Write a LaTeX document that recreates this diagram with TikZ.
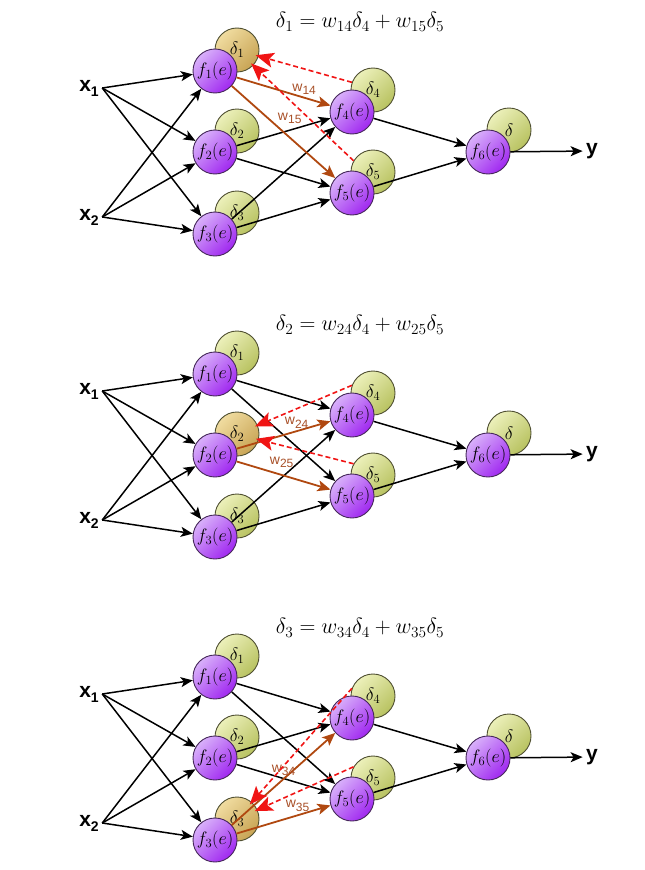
\RequirePackage{fix-cm}
\documentclass[tikz,border=0pt]{standalone}
\usepackage{fontspec}
\newfontfamily\arial{Liberation Sans}
\usetikzlibrary{arrows.meta}

% colours
\definecolor{fTop}{RGB}{216,176,250}
\definecolor{fBot}{RGB}{160,40,240}
\definecolor{fLine}{RGB}{70,40,90}
\definecolor{dTop}{RGB}{236,240,186}
\definecolor{dBot}{RGB}{184,194,96}
\definecolor{dLine}{RGB}{80,80,50}
\definecolor{hTop}{RGB}{240,220,160}
\definecolor{hBot}{RGB}{200,164,84}
\definecolor{wBrown}{RGB}{176,72,16}
\definecolor{wText}{RGB}{168,80,40}
\definecolor{eRed}{RGB}{240,20,20}

% label with a lowered index
\newcommand{\lowidx}[3][12]{#2\raisebox{-0.45ex}{\fontsize{#1}{#1}\selectfont#3}}

\tikzset{
    fnode/.style={circle, draw=fLine, line width=0.9pt, minimum size=44pt,
        inner sep=0pt, top color=fTop, bottom color=fBot, shading angle=45,
        font=\fontsize{18}{18}\selectfont},
    dnode/.style={circle, draw=dLine, line width=0.9pt, minimum size=44pt,
        inner sep=0pt, top color=dTop, bottom color=dBot, shading angle=45,
        font=\fontsize{18}{18}\selectfont},
    dhot/.style={dnode, top color=hTop, bottom color=hBot, shading angle=45},
    headline/.style={font=\fontsize{22}{22}\selectfont},
    inlabel/.style={font=\arial\bfseries\fontsize{21}{21}\selectfont},
    wlabel/.style={text=wText, inner sep=2pt, font=\arial\fontsize{14}{14}\selectfont},
    fwd/.style={->, line width=1.5pt},
    wline/.style={-{Stealth[length=13pt, width=11pt, inset=3pt]}, wBrown, line width=1.8pt},
    errline/.style={-{Stealth[length=18pt, width=15pt, inset=4pt]}, eRed,
        line width=1.6pt, dash pattern=on 5pt off 3pt, shorten >=-3pt}
}

\begin{document}
\begin{tikzpicture}[x=1pt, y=-1pt, >={Stealth[length=12pt, width=10pt, inset=3pt]}]

    \useasboundingbox (0,0) rectangle (645,870);

    \foreach \p/\d/\pa/\pb/\sb in {1/0/0.72/0.56/11, 2/303/0.64/0.48/4, 3/606/0.5/0.65/1}{

        % formula
        \node[headline] (t\p) at (360,22+\d)
            {$\delta_{\p} = w_{\p4}\delta_4 + w_{\p5}\delta_5$};

        % inputs and output
        \node[inlabel] (x1-\p) at (89,88+\d) {\lowidx[14]{x}{1}};
        \node[inlabel] (x2-\p) at (89,217+\d) {\lowidx[14]{x}{2}};
        \node[inlabel] (y-\p) at (592,151+\d) {y};

        % error circles
        \foreach \i/\yy in {1/50, 2/131, 3/213}{
            \ifnum\i=\p\relax
                \node[dhot] (d\i-\p) at (237,\yy+\d) {$\delta_{\i}$};
            \else
                \node[dnode] (d\i-\p) at (237,\yy+\d) {$\delta_{\i}$};
            \fi
        }
        \node[dnode] (d4-\p) at (373,90+\d) {$\delta_4$};
        \node[dnode] (d5-\p) at (373,172+\d) {$\delta_5$};
        \node[dnode] (d6-\p) at (509,130+\d) {$\delta$};

        % neurons
        \foreach \i/\xx/\yy in {1/215/71, 2/215/152, 3/215/234,
                                4/352/112, 5/352/193, 6/488/152}{
            \node[fnode] (f\i-\p) at (\xx,\yy+\d) {$f_{\i}(e)$};
        }

        % forward connections
        \foreach \i in {1,2,3}{
            \draw[fwd] (x1-\p.east) -- (f\i-\p);
            \draw[fwd] (x2-\p.east) -- (f\i-\p);
            \ifnum\i=\p\relax\else
                \draw[fwd] (f\i-\p) -- (f4-\p);
                \draw[fwd] (f\i-\p) -- (f5-\p);
            \fi
        }
        \draw[fwd] (f4-\p) -- (f6-\p);
        \draw[fwd] (f5-\p) -- (f6-\p);
        \draw[fwd] (f6-\p) -- (y-\p);

        % weights of the updated neuron
        \draw[wline] (f\p-\p) -- (f4-\p)
            node[wlabel, pos=\pa, above] (w\p4) {\lowidx{w}{\p4}};
        \draw[wline] (f\p-\p) -- (f5-\p)
            node[wlabel, pos=\pb, above=\sb pt] (w\p5) {\lowidx{w}{\p5}};

        % errors sent back
        \draw[errline] (d4-\p.160) -- (d\p-\p);
        \draw[errline] (d5-\p.150) -- (d\p-\p);
    }

\end{tikzpicture}
\end{document}
